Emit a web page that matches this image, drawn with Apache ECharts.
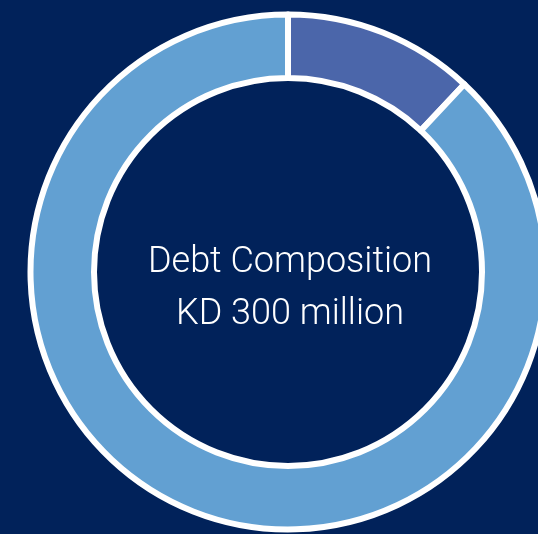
<!DOCTYPE html>
<html><head><meta charset="utf-8">
<script src="https://cdn.jsdelivr.net/npm/echarts@6/dist/echarts.min.js"></script>
<style>html,body{margin:0;padding:0;background:#01225A;}#c{width:538px;height:534px;}</style>
</head><body><div id="c"></div>
<script>
const categories = ['Segment A', 'Segment B'];
const values = [36, 264];
const centerLines = ['Debt Composition', 'KD 300 million'];
const colors = ['#4B66AA', '#62A0D2'];

const chart = echarts.init(document.getElementById('c'), null, {renderer: 'canvas'});
chart.setOption({
  backgroundColor: '#01225A',
  animation: false,
  graphic: [{
    type: 'text', x: 0, y: 0,
    style: {
      text: centerLines.join('\n'),
      x: 290, y: 289,
      fill: '#ffffff',
      font: '300 36px Roboto',
      align: 'center', verticalAlign: 'middle',
      lineHeight: 52
    }
  }],
  series: [{
    type: 'pie',
    center: [288, 272],
    radius: [194, 257.5],
    startAngle: 90,
    clockwise: true,
    label: {show: false},
    labelLine: {show: false},
    emphasis: {disabled: true},
    itemStyle: {borderColor: '#ffffff', borderWidth: 6},
    data: categories.map((n, i) => ({name: n, value: values[i], itemStyle: {color: colors[i]}}))
  }]
});
</script></body></html>
